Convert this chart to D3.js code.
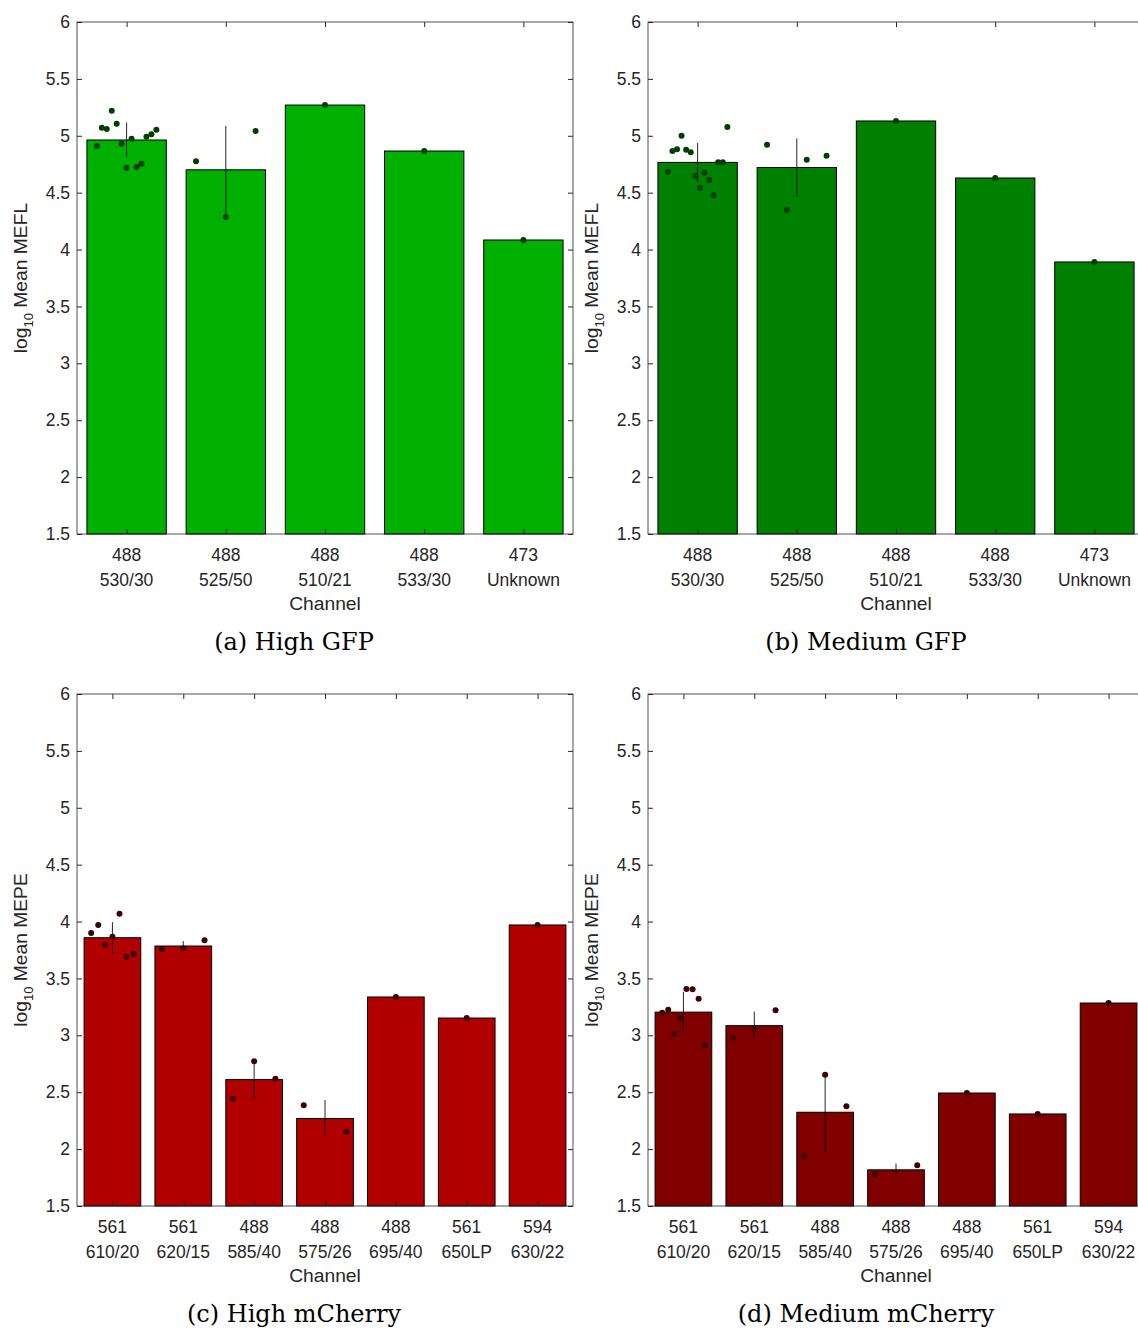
<!DOCTYPE html>
<html>
<head>
<meta charset="utf-8">
<script src="https://cdn.jsdelivr.net/npm/d3@7"></script>
<style>
  html, body { margin: 0; padding: 0; background: #fff; }
  svg { display: block; }
</style>
</head>
<body>
<svg id="chart" width="1138" height="1329"></svg>
<script>
// ---------- data ----------
const gfpChannels = [["488", "530/30"], ["488", "525/50"], ["488", "510/21"], ["488", "533/30"], ["473", "Unknown"]];
const cherryChannels = [["561", "610/20"], ["561", "620/15"], ["488", "585/40"], ["488", "575/26"], ["488", "695/40"], ["561", "650LP"], ["594", "630/22"]];
const yTicks = [1.5, 2, 2.5, 3, 3.5, 4, 4.5, 5, 5.5, 6];
const yTickLabels = ["1.5", "2", "2.5", "3", "3.5", "4", "4.5", "5", "5.5", "6"];
const yDomain = [1.5, 6];

const highGFPMeans = [4.963, 4.701, 5.27, 4.866, 4.084];
const highGFPSD = [0.154, 0.385, 0, 0, 0];
const highGFPPoints = [
  [4.910, 5.071, 5.060, 5.220, 5.106, 4.930, 4.719, 4.974, 4.726, 4.755, 4.992, 5.013, 5.053],
  [4.776, 4.286, 5.042],
  [5.27],
  [4.866],
  [4.084]
];

const medGFPMeans = [4.766, 4.721, 5.130, 4.629, 3.891];
const medGFPSD = [0.171, 0.256, 0, 0, 0];
const medGFPPoints = [
  [4.684, 4.866, 4.881, 5.001, 4.878, 4.855, 4.646, 4.544, 4.675, 4.611, 4.477, 4.767, 4.767, 5.077],
  [4.921, 4.348, 4.790, 4.825],
  [5.130],
  [4.629],
  [3.891]
];

const highCherryMeans = [3.858, 3.785, 2.611, 2.269, 3.337, 3.152, 3.970];
const highCherrySD = [0.137, 0.043, 0.165, 0.164, 0, 0, 0];
const highCherryPoints = [
  [3.899, 3.970, 3.797, 3.867, 4.069, 3.691, 3.715],
  [3.756, 3.765, 3.835],
  [2.443, 2.772, 2.619],
  [2.385, 2.153],
  [3.337],
  [3.152],
  [3.970]
];

const medCherryMeans = [3.204, 3.085, 2.324, 1.818, 2.493, 2.309, 3.284];
const medCherrySD = [0.178, 0.124, 0.35, 0.056, 0, 0, 0];
const medCherryPoints = [
  [3.199, 3.225, 3.012, 3.150, 3.407, 3.405, 3.322, 2.912],
  [2.977, 3.058, 3.220],
  [1.942, 2.654, 2.376],
  [1.779, 1.858],
  [2.493],
  [2.309],
  [3.284]
];

const panels = [
  { left: 77,  top: 22,  channels: gfpChannels, means: highGFPMeans, sd: highGFPSD, pts: highGFPPoints,
    bar: "#00b000", dot: "#003f00", unit: "Mean MEFL", caption: "(a) High GFP", capX: 294 },
  { left: 648, top: 22,  channels: gfpChannels, means: medGFPMeans, sd: medGFPSD, pts: medGFPPoints,
    bar: "#008000", dot: "#003f00", unit: "Mean MEFL", caption: "(b) Medium GFP", capX: 866 },
  { left: 77,  top: 694, channels: cherryChannels, means: highCherryMeans, sd: highCherrySD, pts: highCherryPoints,
    bar: "#b00000", dot: "#3f0000", unit: "Mean MEPE", caption: "(c) High mCherry", capX: 294 },
  { left: 648, top: 694, channels: cherryChannels, means: medCherryMeans, sd: medCherrySD, pts: medCherryPoints,
    bar: "#800000", dot: "#3f0000", unit: "Mean MEPE", caption: "(d) Medium mCherry", capX: 866 }
];

// ---------- drawing ----------
const W = 496, H = 512;
const axisColor = "#262626";
const sans = "'Liberation Sans', Arial, Helvetica, sans-serif";
const serif = "'DejaVu Serif', 'Liberation Serif', serif";
const svg = d3.select("#chart");

panels.forEach(p => {
  const n = p.channels.length;
  const x = d3.scaleLinear().domain([0.5, n + 0.5]).range([0, W]);
  const y = d3.scaleLinear().domain(yDomain).range([H, 0]);
  const g = svg.append("g").attr("transform", `translate(${p.left},${p.top})`);
  const cats = d3.range(1, n + 1);

  // bars
  g.selectAll("rect.bar").data(p.means).join("rect")
    .attr("class", "bar")
    .attr("x", (d, i) => x(i + 1 - 0.4))
    .attr("width", (d, i) => x(i + 1 + 0.4) - x(i + 1 - 0.4))
    .attr("y", d => y(d))
    .attr("height", d => H - y(d))
    .attr("fill", p.bar)
    .attr("stroke", "#000")
    .attr("stroke-width", 1);

  // error bars
  g.selectAll("line.err").data(p.means.map((m, i) => ({ m, s: p.sd[i], i })).filter(d => d.s > 0)).join("line")
    .attr("class", "err")
    .attr("x1", d => x(d.i + 1)).attr("x2", d => x(d.i + 1))
    .attr("y1", d => y(d.m - d.s)).attr("y2", d => y(d.m + d.s))
    .attr("stroke", "#000").attr("stroke-opacity", 0.85).attr("stroke-width", 1);

  // points
  const pts = [];
  p.pts.forEach((arr, i) => {
    arr.forEach((v, j) => {
      const off = arr.length === 1 ? 0 : -0.3 + 0.6 * j / (arr.length - 1);
      pts.push({ cx: i + 1 + off, v });
    });
  });
  g.selectAll("circle.pt").data(pts).join("circle")
    .attr("class", "pt")
    .attr("cx", d => x(d.cx)).attr("cy", d => y(d.v))
    .attr("r", 3)
    .attr("fill", p.dot);

  // box
  g.append("rect").attr("x", 0).attr("y", 0).attr("width", W).attr("height", H)
    .attr("fill", "none").attr("stroke", axisColor).attr("stroke-width", 0.8);

  // y axis ticks (inside, left & right) + labels
  const yAx = d3.axisLeft(y).tickValues(yTicks).tickFormat((d, i) => yTickLabels[i]).tickSizeInner(-5).tickSizeOuter(0).tickPadding(7);
  const ya = g.append("g").call(yAx);
  ya.select(".domain").remove();
  ya.selectAll("line").attr("stroke", axisColor);
  ya.selectAll("text").attr("font-family", sans).attr("font-size", 17.5).attr("fill", axisColor);
  const yr = g.append("g").attr("transform", `translate(${W},0)`)
    .call(d3.axisRight(y).tickValues(yTicks).tickFormat("").tickSizeInner(-5).tickSizeOuter(0));
  yr.select(".domain").remove();
  yr.selectAll("line").attr("stroke", axisColor);

  // x axis ticks (inside, bottom & top)
  const xb = g.append("g").attr("transform", `translate(0,${H})`)
    .call(d3.axisBottom(x).tickValues(cats).tickFormat("").tickSizeInner(-5).tickSizeOuter(0));
  xb.select(".domain").remove();
  xb.selectAll("line").attr("stroke", axisColor);
  const xt = g.append("g")
    .call(d3.axisTop(x).tickValues(cats).tickFormat("").tickSizeInner(-5).tickSizeOuter(0));
  xt.select(".domain").remove();
  xt.selectAll("line").attr("stroke", axisColor);

  // x tick labels (two lines)
  const lab = g.append("g").attr("font-family", sans).attr("font-size", 17.5).attr("fill", axisColor).attr("text-anchor", "middle");
  p.channels.forEach((c, i) => {
    const t = lab.append("text").attr("x", x(i + 1)).attr("y", H + 27);
    t.append("tspan").attr("x", x(i + 1)).text(c[0]);
    t.append("tspan").attr("x", x(i + 1)).attr("dy", 24.5).text(c[1]);
  });

  // x label
  g.append("text").attr("x", W / 2).attr("y", H + 76)
    .attr("text-anchor", "middle").attr("font-family", sans).attr("font-size", 19.25).attr("fill", axisColor)
    .text("Channel");

  // y label
  const yl = g.append("text")
    .attr("transform", `translate(-50,${H / 2}) rotate(-90)`)
    .attr("text-anchor", "middle").attr("font-family", sans).attr("font-size", 19.25).attr("fill", axisColor);
  yl.append("tspan").text("log");
  yl.append("tspan").attr("font-size", 13).attr("dy", 6).text("10");
  yl.append("tspan").attr("dy", -6).text(" " + p.unit);

  // caption
  svg.append("text").attr("x", p.capX).attr("y", p.top + H + 116)
    .attr("text-anchor", "middle").attr("font-family", serif).attr("font-size", 24).attr("fill", "#000")
    .text(p.caption);
});
</script>
</body>
</html>
